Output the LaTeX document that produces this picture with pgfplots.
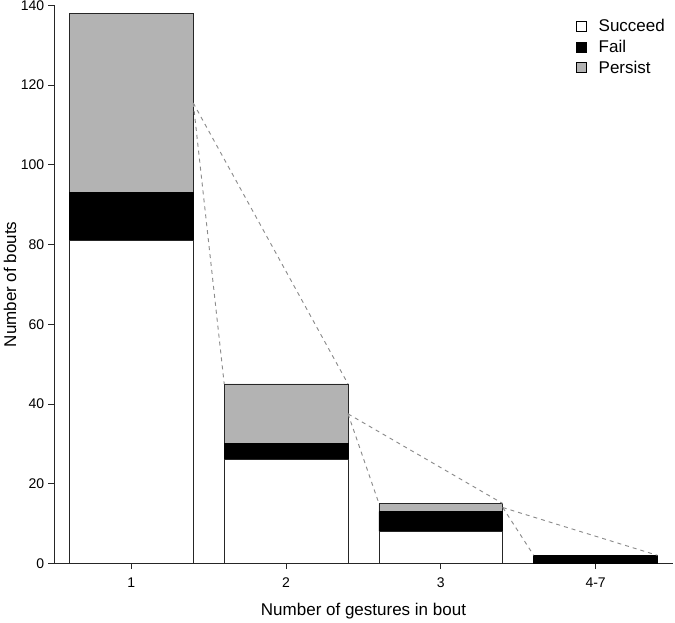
\documentclass[border=0pt]{standalone}
\usepackage{fontspec}
\setmainfont{Liberation Sans}
\usepackage{pgfplots}
\pgfplotsset{compat=1.18}

\definecolor{persistgray}{HTML}{B3B3B3}
\definecolor{linkgray}{HTML}{8C8C8C}

\begin{document}
\begin{tikzpicture}
\pgfplotsset{
  common/.style={
    scale only axis,
    width=464.25pt, height=418.5pt,
    xmin=-0.5, xmax=3.5, ymin=0, ymax=140,
    at={(0,0)}, anchor=south west,
  },
}
\begin{axis}[
    common,
    ybar stacked,
    bar width=0.8,
    axis x line*=bottom,
    axis y line*=left,
    axis line style={line width=0.6pt, black!85},
    tick align=outside,
    major tick length=4.3pt,
    tick style={line width=0.6pt, black!85},
    xtick={0,1,2,3},
    xticklabels={1,2,3,4-7},
    ytick={0,20,...,140},
    /pgf/number format/assume math mode=true,
    ticklabel style={font=\fontsize{10.5}{12}\selectfont},
    xticklabel style={yshift=-3pt},
    yticklabel style={xshift=0.5pt},
    xlabel={Number of gestures in bout},
    ylabel={Number of bouts},
    label style={font=\fontsize{12.75}{15}\selectfont},
    xlabel style={at={(axis description cs:0.5,0)}, anchor=center, yshift=-36pt},
    ylabel style={at={(axis description cs:-0.0711,0.5)}, anchor=center},
    legend style={at={(0.998,0.985)}, anchor=north east, draw=none, fill=none,
      font=\fontsize{12.75}{15.5}\selectfont, cells={anchor=west},
      row sep=0.8pt},
    legend image code/.code={%
      \draw[#1, draw=black] (0pt,-3.75pt) rectangle (7.5pt,3.75pt);
      \path[draw=none, fill=none] (7.5pt,0pt) -- (15pt,0pt);},
]
\addplot[fill=white, draw=black!85, line width=0.6pt]
  coordinates {(0,81) (1,26) (2,8) (3,0)};
\addplot[fill=black, draw=black, line width=0.6pt]
  coordinates {(0,12) (1,4) (2,5) (3,2)};
\addplot[fill=persistgray, draw=black!85, line width=0.6pt]
  coordinates {(0,45) (1,15) (2,2) (3,0)};
\legend{Succeed, Fail, Persist}
\end{axis}
\begin{axis}[common, hide axis]
\addplot[linkgray, dashed, line width=0.7pt] coordinates {(0.4,115.5) (0.6,45)};
\addplot[linkgray, dashed, line width=0.7pt] coordinates {(0.4,115.5) (1.4,45)};
\addplot[linkgray, dashed, line width=0.7pt] coordinates {(1.4,37.5) (1.6,15)};
\addplot[linkgray, dashed, line width=0.7pt] coordinates {(1.4,37.5) (2.4,15)};
\addplot[linkgray, dashed, line width=0.7pt] coordinates {(2.4,14) (2.6,2)};
\addplot[linkgray, dashed, line width=0.7pt] coordinates {(2.4,14) (3.4,2)};
\end{axis}
\pgfresetboundingbox
\path[use as bounding box] (-40.5pt,-44pt) rectangle (465.75pt,422.5pt);
\end{tikzpicture}
\end{document}
